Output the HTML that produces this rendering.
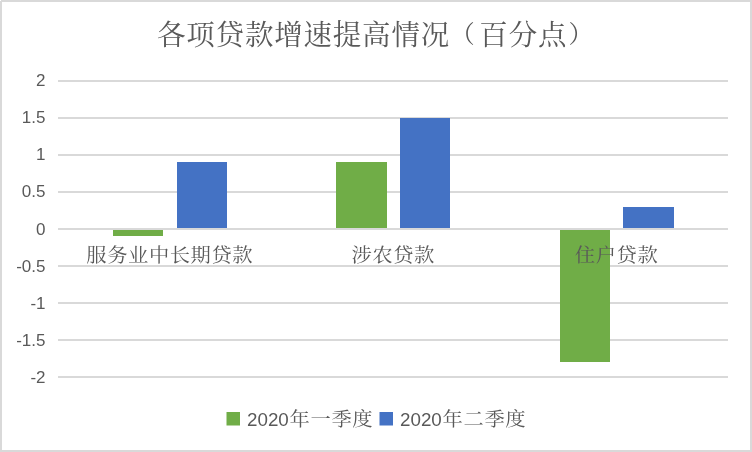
<!DOCTYPE html>
<html lang="zh-CN">
<head>
<meta charset="utf-8">
<title>各项贷款增速提高情况（百分点）</title>
<style>
html,body{margin:0;padding:0;background:#fff;}
body{width:752px;height:452px;overflow:hidden;position:relative;}
svg{display:block;position:absolute;left:0;top:0;}
.cjk{font-family:"Liberation Serif","Noto Serif CJK SC",serif;fill:#595959;}
.num{font-family:"Liberation Sans",sans-serif;fill:#595959;}
</style>
</head>
<body>
<svg width="752" height="452" viewBox="0 0 752 452">
  <rect x="0" y="0" width="752" height="452" fill="#ffffff"/>
  <rect x="1" y="1" width="750" height="450" fill="none" stroke="#d9d9d9" stroke-width="2"/>
  <rect x="0" y="0" width="1" height="1" fill="#ffffff"/>

  <!-- title -->
  <text class="cjk" x="157" y="44.6" font-size="28.5" letter-spacing="0.8">各项贷款增速提高情况<tspan font-size="24.5" dx="0.25" dy="-1.7">（</tspan><tspan dx="3.75" dy="1.7">百分点</tspan><tspan font-size="24.5" dx="1.2" dy="-1.7">）</tspan></text>

  <!-- gridlines -->
  <g fill="#d9d9d9">
    <rect x="58" y="80" width="670" height="2"/>
    <rect x="58" y="117" width="670" height="2"/>
    <rect x="58" y="154" width="670" height="2"/>
    <rect x="58" y="191" width="670" height="2"/>
    <rect x="58" y="265" width="670" height="2"/>
    <rect x="58" y="302" width="670" height="2"/>
    <rect x="58" y="339" width="670" height="2"/>
    <rect x="58" y="376" width="670" height="2"/>
  </g>

  <!-- y axis labels -->
  <g class="num" font-size="17" text-anchor="end">
    <text x="45.5" y="86">2</text>
    <text x="45.5" y="123">1.5</text>
    <text x="45.5" y="160">1</text>
    <text x="45.5" y="197">0.5</text>
    <text x="45.5" y="235">0</text>
    <text x="45.5" y="272">-0.5</text>
    <text x="45.5" y="309">-1</text>
    <text x="45.5" y="346">-1.5</text>
    <text x="45.5" y="383">-2</text>
  </g>

  <!-- bars -->
  <g fill="#70ad47">
    <rect x="113" y="229" width="50" height="7"/>
    <rect x="336" y="162" width="51" height="67"/>
    <rect x="560" y="229" width="50" height="133"/>
  </g>
  <g fill="#4472c4">
    <rect x="177" y="162" width="50" height="67"/>
    <rect x="400" y="118" width="50" height="111"/>
    <rect x="623" y="207" width="51" height="22"/>
  </g>
  <!-- zero axis line on top -->
  <rect x="58" y="228" width="670" height="2" fill="#d9d9d9"/>

  <!-- category labels -->
  <g class="cjk" font-size="20.3" letter-spacing="0.58">
    <text transform="translate(86.3,262.3) scale(1,0.95)">服务业中长期贷款</text>
    <text transform="translate(351.5,262.3) scale(1,0.95)">涉农贷款</text>
    <text transform="translate(574.8,262.3) scale(1,0.95)">住户贷款</text>
  </g>

  <!-- legend -->
  <rect x="226.5" y="412" width="13.5" height="13.5" fill="#70ad47"/>
  <text class="num" x="247" y="426.3" font-size="18.8">2020</text>
  <text class="cjk" font-size="20.3" letter-spacing="0.63" transform="translate(289.6,426.3) scale(1,0.95)">年一季度</text>
  <rect x="379.5" y="412" width="13.5" height="13.5" fill="#4472c4"/>
  <text class="num" x="400" y="426.3" font-size="18.8">2020</text>
  <text class="cjk" font-size="20.3" letter-spacing="0.63" transform="translate(442.6,426.3) scale(1,0.95)">年二季度</text>
</svg>
</body>
</html>
